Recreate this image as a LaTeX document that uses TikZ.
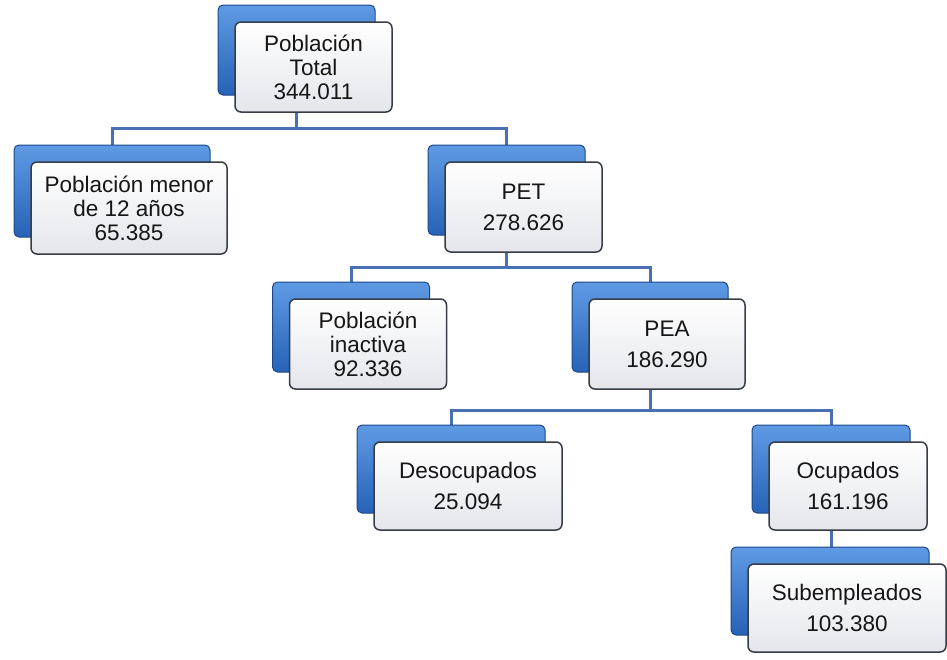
\documentclass[tikz,border=0pt]{standalone}
\usepackage{fontspec}
\setmainfont{Liberation Sans}
\pgfdeclarelayer{bg}
\pgfsetlayers{bg,main}
\definecolor{conncol}{RGB}{72,112,178}
\definecolor{backtop}{RGB}{95,155,228}
\definecolor{backbot}{RGB}{38,98,182}
\definecolor{backline}{RGB}{30,70,135}
\definecolor{frontline}{RGB}{55,60,70}
\definecolor{frontbot}{RGB}{228,230,234}
\definecolor{txt}{RGB}{22,22,22}
\tikzset{
  backbox/.style={rectangle, rounded corners=5pt, draw=backline, line width=1pt,
    top color=backtop, bottom color=backbot, inner sep=0pt},
  frontbox/.style={rectangle, rounded corners=6pt, draw=frontline, line width=1.5pt,
    top color=white, bottom color=frontbot, inner sep=0pt, align=center, text=txt},
  three/.style={font=\fontsize{22.5}{24}\selectfont},
  two/.style={font=\fontsize{22.5}{31}\selectfont},
  conn/.style={draw=conncol, line width=3pt}
}
\begin{document}
\begin{tikzpicture}[x=1pt,y=-1pt]
\useasboundingbox (0,0) rectangle (947,659);
% Box 1
\node[backbox, minimum width=157pt, minimum height=90pt] (b1) at (296.5,50) {};
\node[frontbox, three, minimum width=157pt, minimum height=90pt] (f1) at (313.5,67) {Población\\Total\\344.011};
% Box 2
\node[backbox, minimum width=196pt, minimum height=92pt] (b2) at (112,191) {};
\node[frontbox, three, minimum width=196pt, minimum height=92pt] (f2) at (129,208) {Población menor\\de 12 años\\65.385};
% Box 3
\node[backbox, minimum width=157pt, minimum height=90pt] (b3) at (506.5,190) {};
\node[frontbox, two, minimum width=157pt, minimum height=90pt] (f3) at (523.5,207) {PET\\278.626};
% Box 4
\node[backbox, minimum width=157pt, minimum height=90pt] (b4) at (351,327) {};
\node[frontbox, three, minimum width=157pt, minimum height=90pt] (f4) at (368,344) {Población\\inactiva\\92.336};
% Box 5
\node[backbox, minimum width=156pt, minimum height=90pt] (b5) at (650,327) {};
\node[frontbox, two, minimum width=156pt, minimum height=90pt] (f5) at (667,344) {PEA\\186.290};
% Box 6
\node[backbox, minimum width=188pt, minimum height=88pt] (b6) at (451,469) {};
\node[frontbox, two, minimum width=188pt, minimum height=88pt] (f6) at (468,486) {Desocupados\\25.094};
% Box 7
\node[backbox, minimum width=158pt, minimum height=88pt] (b7) at (831,469) {};
\node[frontbox, two, minimum width=158pt, minimum height=88pt] (f7) at (848,486) {Ocupados\\161.196};
% Box 8
\node[backbox, minimum width=198pt, minimum height=88pt] (b8) at (830,591) {};
\node[frontbox, two, minimum width=198pt, minimum height=88pt] (f8) at (847,608) {Subempleados\\103.380};
% bus levels
\coordinate (l1) at (0,128);
\coordinate (l2) at (0,267);
\coordinate (l3) at (0,410);
\begin{pgfonlayer}{bg}
\draw[conn] (b1.center) -- (b1.center |- l1) -| (b2.center);
\draw[conn] (b1.center |- l1) -| (b3.center);
\draw[conn] (b3.center) -- (b3.center |- l2) -| (b4.center);
\draw[conn] (b3.center |- l2) -| (b5.center);
\draw[conn] (b5.center) -- (b5.center |- l3) -| (b6.center);
\draw[conn] (b5.center |- l3) -| (b7.center);
\draw[conn] (b7.center) -- (b7.center |- b8.center);
\end{pgfonlayer}
\end{tikzpicture}
\end{document}
